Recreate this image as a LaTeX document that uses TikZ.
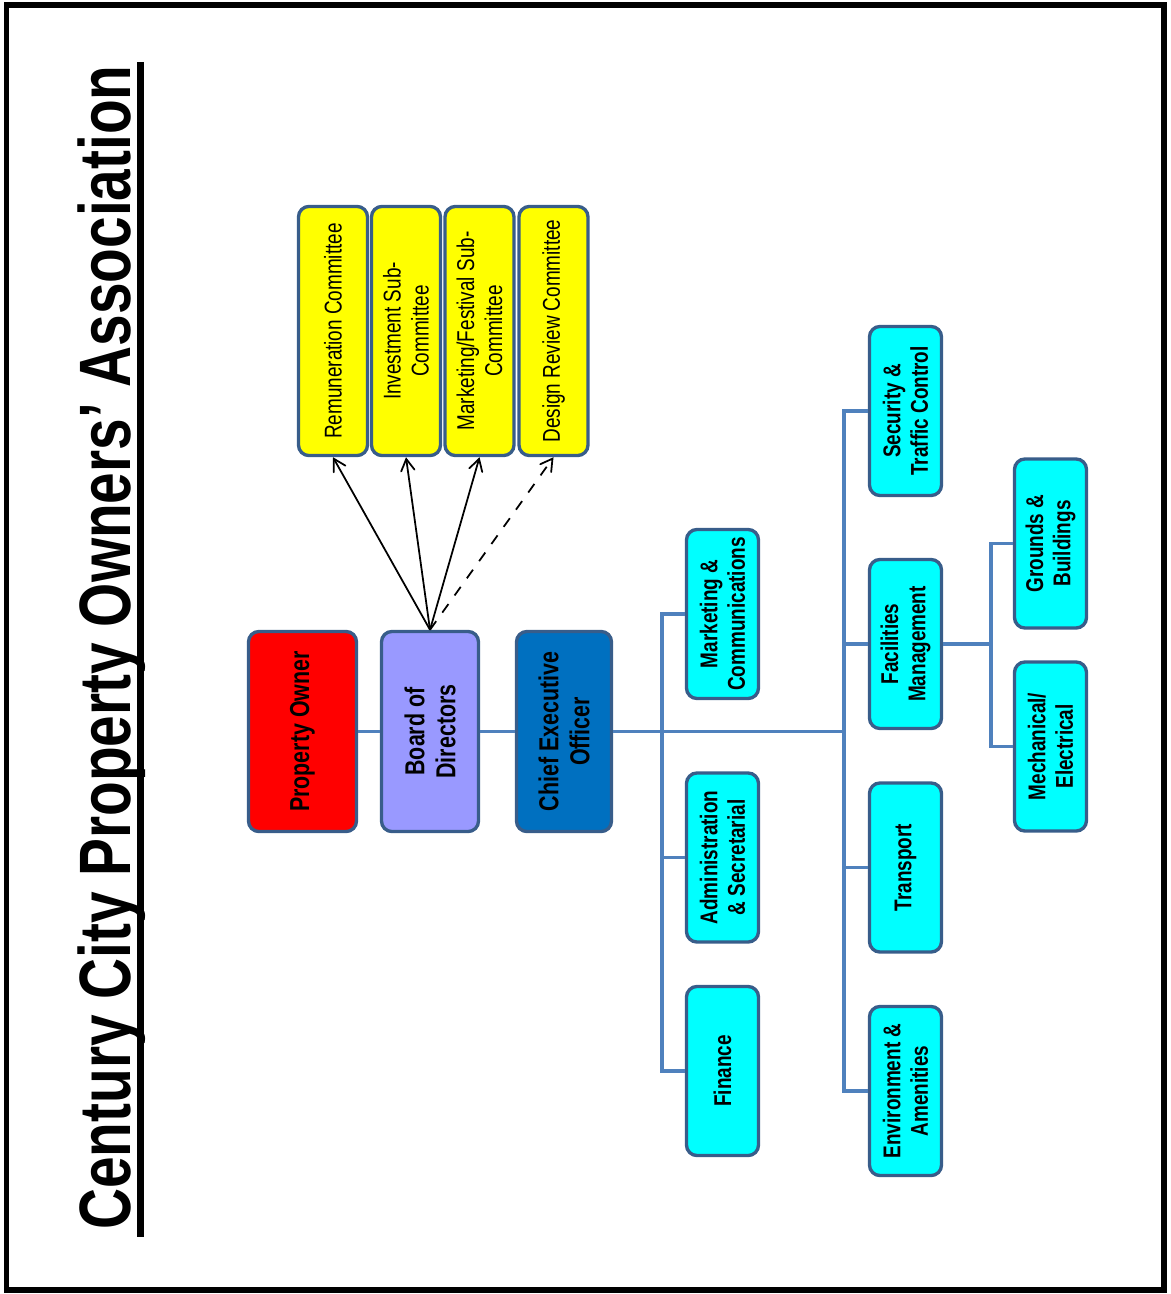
\documentclass[tikz,border=0pt]{standalone}
\usepackage{fontspec}
\setmainfont{Liberation Sans}[FakeStretch=0.78]
\usepackage{tikz}
\usetikzlibrary{calc,arrows}
\definecolor{boxline}{HTML}{385D8A}
\definecolor{linkblue}{HTML}{4F81BD}
\definecolor{ownerred}{HTML}{FF0000}
\definecolor{boardlav}{HTML}{9999FF}
\definecolor{ceoblue}{HTML}{0070C0}
\definecolor{commyellow}{HTML}{FFFF00}
\definecolor{deptcyan}{HTML}{00FFFF}

\tikzset{
  orgbox/.style={draw=boxline, line width=0.95pt, rounded corners=3pt, rotate=90, align=center, inner sep=1pt},
  topbox/.style={orgbox, minimum width=2.0cm, font=\fontsize{7.8}{8.8}\selectfont\bfseries},
  commbox/.style={orgbox, fill=commyellow, minimum width=2.49cm, minimum height=0.69cm, font=\fontsize{6.9}{8}\selectfont},
  deptbox/.style={orgbox, fill=deptcyan, minimum width=1.69cm, minimum height=0.72cm, font=\fontsize{6.9}{7.8}\selectfont\bfseries},
  link/.style={draw=linkblue, line width=1.05pt},
  pointer/.style={->, >=angle 60, line width=0.5pt}
}

\begin{document}
\begin{tikzpicture}[x=0.01cm, y=-0.01cm]
    \useasboundingbox (0,0) rectangle (1171,1294);
    \draw[line width=1.7pt] (6.5,5) rectangle (1163.5,1290);

    % title
    \node[rotate=90, anchor=base, inner sep=0pt, font=\fontsize{20.7}{24}\selectfont\bfseries] (title) at (130,647.5) {Century City Property Owners’ Association};
    \draw[line width=2.2pt] (140.5,62) -- (140.5,1237);

    % committees
    \node[commbox] (remun) at (333,331) {Remuneration Committee};
    \node[commbox] (invest) at (406,331) {Investment Sub-\\Committee};
    \node[commbox] (festival) at (479.5,331) {Marketing/Festival Sub-\\Committee};
    \node[commbox] (design) at (553.5,331) {Design Review Committee};

    \node[topbox, fill=ownerred, minimum height=1.08cm] (owner) at (302.5,731.5) {Property Owner};
    \node[topbox, fill=boardlav, minimum height=0.97cm] (board) at (430,731.5) {Board of\\Directors};
    \node[topbox, fill=ceoblue, minimum height=0.95cm] (ceo) at (564,731.5) {Chief Executive\\Officer};

    % departments
    \node[deptbox] (marcom) at (722.5,614) {Marketing \&\\Communications};
    \node[deptbox] (admin) at (722.5,857.5) {Administration\\\& Secretarial};
    \node[deptbox] (finance) at (722.5,1071) {Finance};
    \node[deptbox] (security) at (905.5,411) {Security \&\\Traffic Control};
    \node[deptbox] (facilities) at (905.5,644) {Facilities\\Management};
    \node[deptbox] (transport) at (905.5,867.5) {Transport};
    \node[deptbox] (environ) at (905.5,1091) {Environment \&\\Amenities};
    \node[deptbox] (grounds) at (1050.5,543.5) {Grounds \&\\Buildings};
    \node[deptbox] (mech) at (1050.5,746.5) {Mechanical/\\Electrical};

    \coordinate (busA) at (662,731.5);
    \coordinate (busB) at (844,731.5);
    \coordinate (busC) at ($(facilities.south)+(48,0)$);
    \draw[link] (owner.south) -- (board.north);
    \draw[link] (board.south) -- (ceo.north);
    \draw[link] (ceo.south) -- (busB);
    \foreach \d in {marcom,admin,finance} \draw[link] (\d.north) -| (busA);
    \foreach \d in {security,facilities,transport,environ} \draw[link] (\d.north) -| (busB);
    \draw[link] (facilities.south) -- (busC);
    \foreach \d in {grounds,mech} \draw[link] (\d.north) -| (busC);

    \foreach \c in {remun,invest,festival} \draw[pointer] (board.east) -- (\c.west);
    \draw[pointer, dashed] (board.east) -- (design.west);
\end{tikzpicture}
\end{document}
